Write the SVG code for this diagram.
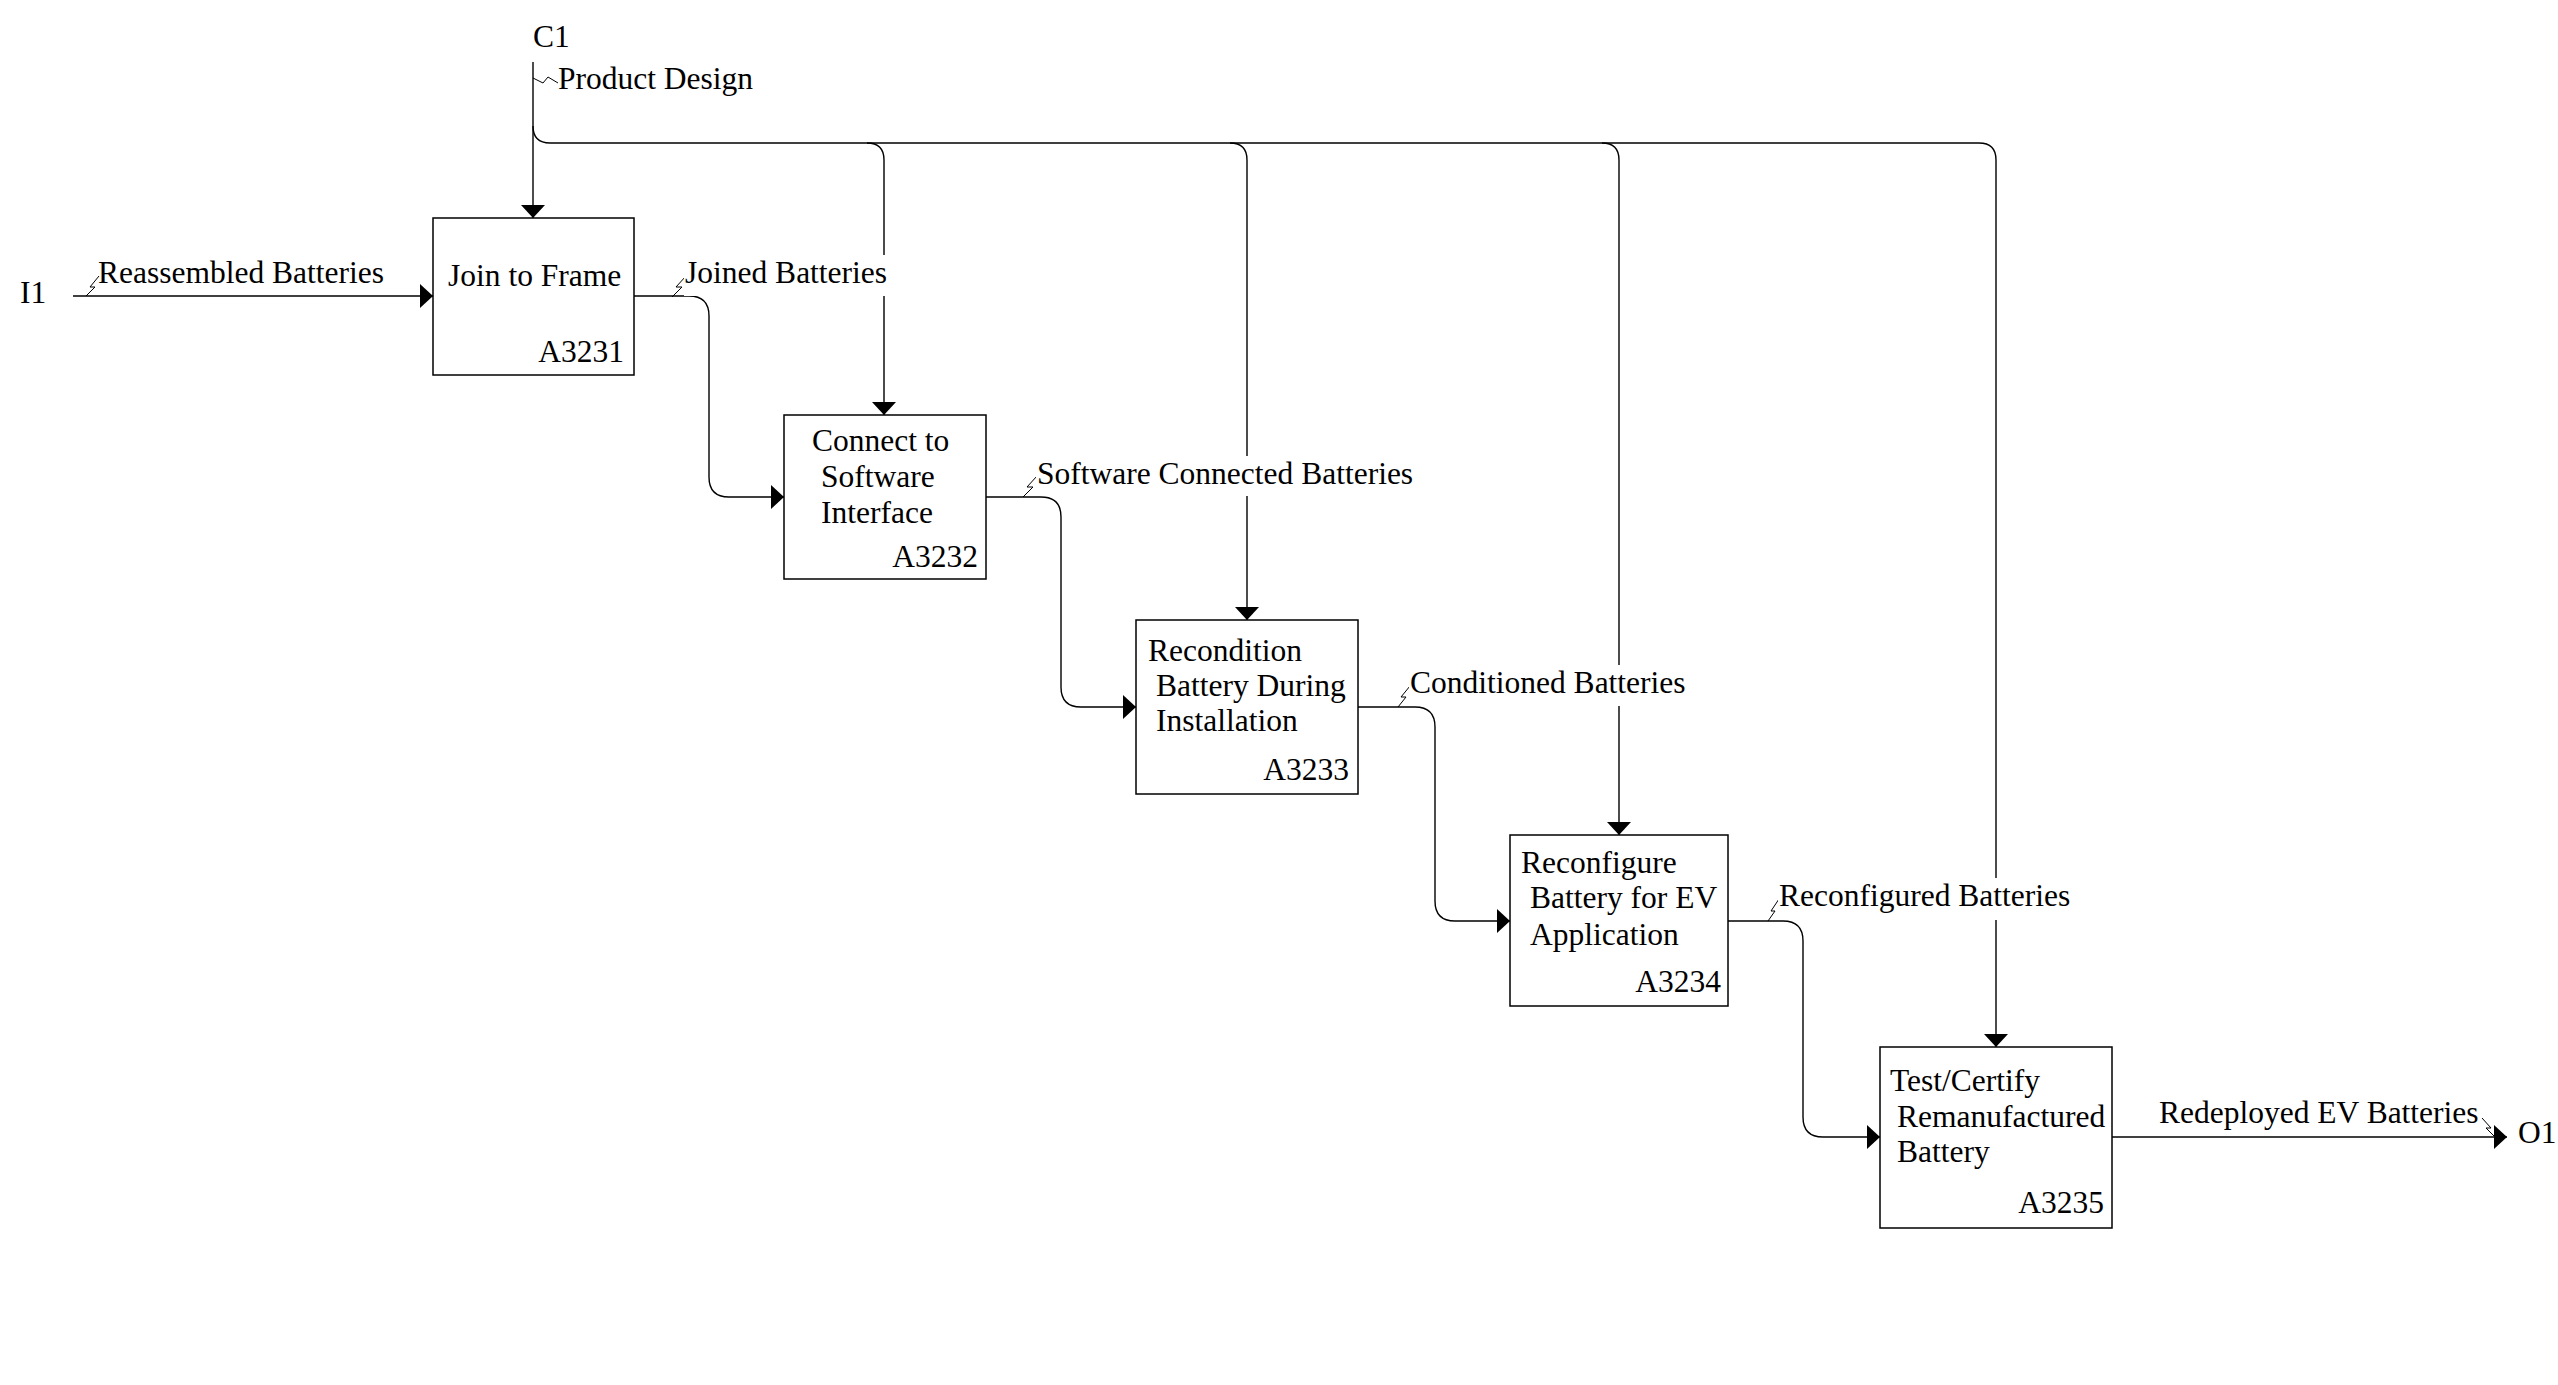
<svg xmlns="http://www.w3.org/2000/svg" width="2558" height="1385" viewBox="0 0 2558 1385">
<style>
text{font-family:"Liberation Serif","Times New Roman",serif;font-size:31.5px;fill:#000}
.box{fill:#fff;stroke:#000;stroke-width:1.5}
.ln{fill:none;stroke:#000;stroke-width:1.4}
.sq{fill:none;stroke:#000;stroke-width:1}
.bg{fill:#fff;stroke:none}
.end{text-anchor:end}
</style>
<defs>
<marker id="arr" markerUnits="userSpaceOnUse" markerWidth="14" markerHeight="26" refX="13" refY="12" orient="auto">
<path d="M0,0 L13,12 L0,24 Z" fill="#000"/>
</marker>
</defs>
<rect width="2558" height="1385" fill="#fff"/>
<g id="connectors">
<path class="ln" d="M533,62 V218" marker-end="url(#arr)"/>
<path class="ln" d="M533,126 Q533,143 550,143 H1979 Q1996,143 1996,160 V1047" marker-end="url(#arr)"/>
<path class="ln" d="M867,143 Q884,143 884,160 V415" marker-end="url(#arr)"/>
<path class="ln" d="M1230,143 Q1247,143 1247,160 V620" marker-end="url(#arr)"/>
<path class="ln" d="M1602,143 Q1619,143 1619,160 V835" marker-end="url(#arr)"/>
<path class="ln" d="M73,296 H433" marker-end="url(#arr)"/>
<path class="ln" d="M634,296 H689 Q709,296 709,316 V477 Q709,497 729,497 H784" marker-end="url(#arr)"/>
<path class="ln" d="M986,497 H1041 Q1061,497 1061,517 V687 Q1061,707 1081,707 H1136" marker-end="url(#arr)"/>
<path class="ln" d="M1358,707 H1415 Q1435,707 1435,727 V901 Q1435,921 1455,921 H1510" marker-end="url(#arr)"/>
<path class="ln" d="M1728,921 H1783 Q1803,921 1803,941 V1117 Q1803,1137 1823,1137 H1880" marker-end="url(#arr)"/>
<path class="ln" d="M2112,1137 H2507" marker-end="url(#arr)"/>
<path class="sq" d="M533,78 L543,83 L548,77 L558,83"/>
<path class="sq" d="M86,296 L95,287 L90,287 L99,276"/>
<path class="sq" d="M672,297 L682,287 L676,287 L686,276"/>
<path class="sq" d="M1023,497 L1033,487 L1027,487 L1037,476"/>
<path class="sq" d="M1398,707 L1406,697 L1401,697 L1410,686"/>
<path class="sq" d="M1768,921 L1775,911 L1771,911 L1779,899"/>
<path class="sq" d="M2482,1118 L2491,1128 L2486,1128 L2495,1137"/>
</g>
<g id="labels">
<text x="533" y="47">C1</text>
<text x="558" y="89">Product Design</text>
<text x="20" y="303">I1</text>
<text x="98" y="283">Reassembled Batteries</text>
<rect class="bg" x="684" y="255" width="208" height="41"/>
<text x="685" y="283">Joined Batteries</text>
<rect class="bg" x="1036" y="456" width="382" height="40"/>
<text x="1037" y="484">Software Connected Batteries</text>
<rect class="bg" x="1409" y="665" width="280" height="41"/>
<text x="1410" y="693">Conditioned Batteries</text>
<rect class="bg" x="1778" y="878" width="295" height="42"/>
<text x="1779" y="906">Reconfigured Batteries</text>
<text x="2159" y="1123">Redeployed EV Batteries</text>
<text x="2518" y="1143">O1</text>
</g>
<g id="A3231">
<rect class="box" x="433" y="218" width="201" height="157"/>
<text x="448" y="286">Join to Frame</text>
<text class="end" x="624" y="362">A3231</text>
</g>
<g id="A3232">
<rect class="box" x="784" y="415" width="202" height="164"/>
<text x="812" y="451">Connect to</text>
<text x="821" y="487">Software</text>
<text x="821" y="523">Interface</text>
<text class="end" x="978" y="567">A3232</text>
</g>
<g id="A3233">
<rect class="box" x="1136" y="620" width="222" height="174"/>
<text x="1148" y="661">Recondition</text>
<text x="1156" y="696">Battery During</text>
<text x="1156" y="731">Installation</text>
<text class="end" x="1349" y="780">A3233</text>
</g>
<g id="A3234">
<rect class="box" x="1510" y="835" width="218" height="171"/>
<text x="1521" y="873">Reconfigure</text>
<text x="1530" y="908">Battery for EV</text>
<text x="1530" y="945">Application</text>
<text class="end" x="1721" y="992">A3234</text>
</g>
<g id="A3235">
<rect class="box" x="1880" y="1047" width="232" height="181"/>
<text x="1890" y="1091">Test/Certify</text>
<text x="1897" y="1127">Remanufactured</text>
<text x="1897" y="1162">Battery</text>
<text class="end" x="2104" y="1213">A3235</text>
</g>
</svg>
